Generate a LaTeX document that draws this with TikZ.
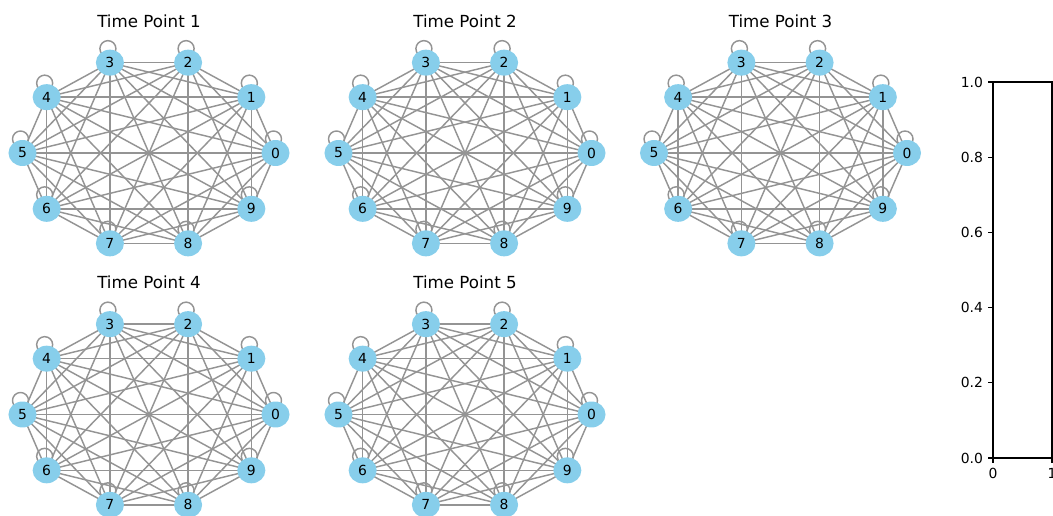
\documentclass[tikz,border=0pt]{standalone}
\usepackage{fontspec}
\setmainfont{DejaVu Sans}
\usetikzlibrary{shapes.geometric}
\definecolor{nodeblue}{RGB}{135,206,235}
\definecolor{edgegray}{RGB}{148,148,148}
\pgfdeclarelayer{bg}
\pgfsetlayers{bg,main}
\tikzset{
  vtx/.style={ellipse, fill=nodeblue, inner sep=0pt, minimum width=20.2pt, minimum height=18.7pt, font=\fontsize{10}{12}\selectfont},
  lnk/.style={edgegray, line width=1.05pt},
  ttl/.style={font=\fontsize{12}{14}\selectfont},
  spine/.style={black, line width=0.8pt},
  ticklab/.style={font=\fontsize{10}{12}\selectfont, inner sep=0pt}
}

\begin{document}
\begin{tikzpicture}[x=0.72pt, y=-0.72pt]
	\useasboundingbox (0,0) rectangle (1053,516);
	% five time points, complete graph on 10 vertices
	\foreach \g/\cx/\cy in {1/149/153, 2/465/153, 3/780.5/153, 4/149/414.5, 5/465/414.5} {
		\node[ttl] (title\g) at (\cx,\cy-132) {Time Point \g};
		\foreach \k in {0,...,9}
			\node[vtx] (g\g n\k) at ({\cx+126.5*cos(36*\k)},{\cy-95*sin(36*\k)}) {\k};
		\begin{pgfonlayer}{bg}
			\foreach \i in {0,...,8} {
				\pgfmathtruncatemacro\nxt{\i+1}
				\foreach \j in {\nxt,...,9}
					\draw[lnk] (g\g n\i.center) -- (g\g n\j.center);
			}
			\foreach \k in {0,...,9}
				\draw[lnk] ([shift={(-2,-14)}]g\g n\k.center) circle (8);
		\end{pgfonlayer}
	}
	% empty colour axis, cut at the right edge
	\draw[spine] (993,82) rectangle (1052,458);
	\foreach \p/\lab in {458/0.0, 382.8/0.2, 307.6/0.4, 232.4/0.6, 157.2/0.8, 82/1.0} {
		\draw[spine] (993,\p) -- (988.1,\p);
		\node[ticklab, anchor=east] (ylab\lab) at (983.2,\p) {\lab};
	}
	\foreach \p/\lab in {993/0, 1052/1} {
		\draw[spine] (\p,458) -- (\p,462.9);
		\node[ticklab, anchor=north] (xlab\lab) at (\p,467.8) {\lab};
	}
\end{tikzpicture}
\end{document}
